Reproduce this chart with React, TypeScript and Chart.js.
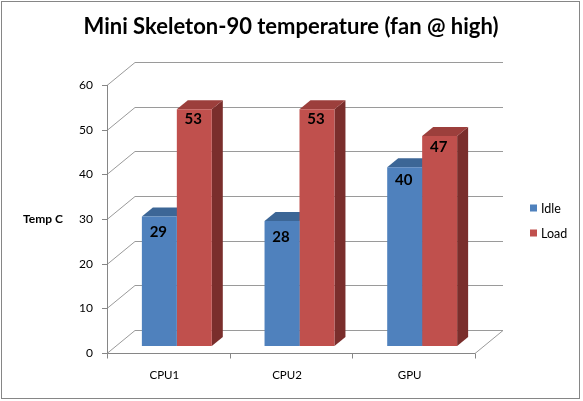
import React, { useEffect, useRef } from "react";
import { Chart, registerables } from "chart.js";

Chart.register(...registerables);

const categories = ["CPU1", "CPU2", "GPU"];
const idleValues = [29, 28, 40];
const loadValues = [53, 53, 47];
const seriesNames = ["Idle", "Load"];
const yTicks = [0, 10, 20, 30, 40, 50, 60];
const titleText = "Mini Skeleton-90 temperature (fan @ high)";
const yAxisTitle = "Temp C";

const FRONT = ["#4F81BD", "#C0504D"];
const TOP = ["#3C6696", "#9C3F3C"];
const SIDE = ["#365B85", "#7A2E2C"];

const WALL_DX = 28;
const WALL_DY = -23;
const BAR_SHIFT_X = 8.5;
const BAR_SHIFT_Y = -7;
const DEPTH_DX = 11;
const DEPTH_DY = -9;
const FONT = "Lato, 'Open Sans', sans-serif";

const px = (v: number) => Math.round(v) + 0.5;

const threeD = {
  id: "threeD",
  beforeDraw(chart: any) {
    const { ctx, width, height } = chart;
    ctx.save();
    ctx.fillStyle = "#ffffff";
    ctx.fillRect(0, 0, width, height);
    ctx.strokeStyle = "#868686";
    ctx.lineWidth = 1;
    ctx.strokeRect(1.5, 1.5, 578, 397);
    // title
    ctx.fillStyle = "#000";
    ctx.font = `bold 22px ${FONT}`;
    ctx.textAlign = "center";
    ctx.textBaseline = "middle";
    ctx.fillText(titleText, 291, 27);
    // y axis title
    ctx.font = `bold 12px ${FONT}`;
    ctx.textAlign = "left";
    ctx.fillText(yAxisTitle, 23, 219);
    // legend
    ctx.font = `12.5px ${FONT}`;
    seriesNames.forEach((name, i) => {
      const y = 208 + i * 25;
      ctx.fillStyle = FRONT[i];
      ctx.fillRect(530, y - 3.5, 7, 7);
      ctx.fillStyle = "#000";
      ctx.fillText(name, 541, y + 0.5);
    });
    ctx.restore();
  },
  beforeDatasetsDraw(chart: any) {
    const { ctx } = chart;
    const xs = chart.scales.x;
    const ys = chart.scales.y;
    const area = chart.chartArea;
    ctx.save();
    ctx.lineWidth = 1;
    // back wall grid lines + left wall diagonals
    ctx.strokeStyle = "#9a9a9a";
    yTicks.forEach((v) => {
      const yf = ys.getPixelForValue(v);
      ctx.beginPath();
      ctx.moveTo(area.left, px(yf));
      ctx.lineTo(area.left + WALL_DX, px(yf + WALL_DY));
      ctx.lineTo(area.right + WALL_DX, px(yf + WALL_DY));
      ctx.stroke();
    });
    // floor right edge
    const y0 = ys.getPixelForValue(0);
    ctx.beginPath();
    ctx.moveTo(area.right, px(y0));
    ctx.lineTo(area.right + WALL_DX, px(y0 + WALL_DY));
    ctx.stroke();
    // front axis lines
    ctx.strokeStyle = "#868686";
    ctx.beginPath();
    ctx.moveTo(px(area.left), ys.getPixelForValue(yTicks[yTicks.length - 1]));
    ctx.lineTo(px(area.left), px(y0));
    ctx.lineTo(area.right, px(y0));
    ctx.stroke();
    // y tick marks and labels
    ctx.fillStyle = "#000";
    ctx.font = `12px ${FONT}`;
    ctx.textAlign = "right";
    ctx.textBaseline = "middle";
    yTicks.forEach((v) => {
      const yf = ys.getPixelForValue(v);
      ctx.beginPath();
      ctx.moveTo(area.left - 5, px(yf));
      ctx.lineTo(area.left, px(yf));
      ctx.stroke();
      ctx.fillText(String(v), area.left - 14, yf);
    });
    // x tick marks and labels
    for (let i = 0; i <= categories.length; i++) {
      const xv = xs.getPixelForValue(i - 0.5);
      ctx.beginPath();
      ctx.moveTo(px(xv), px(y0));
      ctx.lineTo(px(xv), px(y0) + 5);
      ctx.stroke();
    }
    ctx.font = `11.5px ${FONT}`;
    ctx.textAlign = "center";
    categories.forEach((c, i) => {
      ctx.fillText(c, xs.getPixelForValue(i) - 4, y0 + 22);
    });
    // bar top and side faces
    chart.data.datasets.forEach((_ds: any, di: number) => {
      const meta = chart.getDatasetMeta(di);
      meta.data.forEach((el: any) => {
        const p = el.getProps(["x", "y", "base", "width"], true);
        const L = p.x - p.width / 2 + BAR_SHIFT_X;
        const R = p.x + p.width / 2 + BAR_SHIFT_X;
        const T = p.y + BAR_SHIFT_Y;
        const B = p.base + BAR_SHIFT_Y;
        ctx.fillStyle = SIDE[di];
        ctx.beginPath();
        ctx.moveTo(R, T);
        ctx.lineTo(R + DEPTH_DX, T + DEPTH_DY);
        ctx.lineTo(R + DEPTH_DX, B + DEPTH_DY);
        ctx.lineTo(R, B);
        ctx.closePath();
        ctx.fill();
        ctx.fillStyle = TOP[di];
        ctx.beginPath();
        ctx.moveTo(L, T);
        ctx.lineTo(R, T);
        ctx.lineTo(R + DEPTH_DX, T + DEPTH_DY);
        ctx.lineTo(L + DEPTH_DX, T + DEPTH_DY);
        ctx.closePath();
        ctx.fill();
      });
    });
    ctx.restore();
    ctx.save();
    ctx.translate(BAR_SHIFT_X, BAR_SHIFT_Y);
  },
  afterDatasetsDraw(chart: any) {
    const { ctx } = chart;
    ctx.restore();
    ctx.save();
    ctx.fillStyle = "#000";
    ctx.font = `bold 15px ${FONT}`;
    ctx.textAlign = "center";
    ctx.textBaseline = "middle";
    chart.data.datasets.forEach((ds: any, di: number) => {
      const meta = chart.getDatasetMeta(di);
      meta.data.forEach((el: any, i: number) => {
        const p = el.getProps(["x", "y", "base"], true);
        const h = p.base - p.y;
        ctx.fillText(String(ds.data[i]), p.x + BAR_SHIFT_X - 1, p.y + 16 - 0.056 * h);
      });
    });
    ctx.restore();
  },
};

export default function App() {
  const ref = useRef<HTMLCanvasElement>(null);
  useEffect(() => {
    if (!ref.current) return;
    const chart = new Chart(ref.current, {
      type: "bar",
      data: {
        labels: categories,
        datasets: [
          {
            label: seriesNames[0],
            data: idleValues,
            backgroundColor: FRONT[0],
            borderWidth: 0,
            categoryPercentage: 0.57,
            barPercentage: 1,
            clip: false as any,
          },
          {
            label: seriesNames[1],
            data: loadValues,
            backgroundColor: FRONT[1],
            borderWidth: 0,
            categoryPercentage: 0.57,
            barPercentage: 1,
            clip: false as any,
          },
        ],
      },
      options: {
        responsive: false,
        animation: false,
        events: [],
        layout: { padding: { left: 107, right: 108, top: 85, bottom: 48 } },
        plugins: {
          legend: { display: false },
          title: { display: false },
          tooltip: { enabled: false },
        },
        scales: {
          x: { display: false },
          y: { display: false, min: 0, max: 60, ticks: { stepSize: 10 } },
        },
      },
      plugins: [threeD],
    });
    return () => chart.destroy();
  }, []);
  return (
    <div style={{ position: "fixed", left: 0, top: 0, width: 583, height: 401, background: "#fff" }}>
      <canvas ref={ref} width={583} height={401} style={{ width: 583, height: 401, display: "block" }} />
    </div>
  );
}
